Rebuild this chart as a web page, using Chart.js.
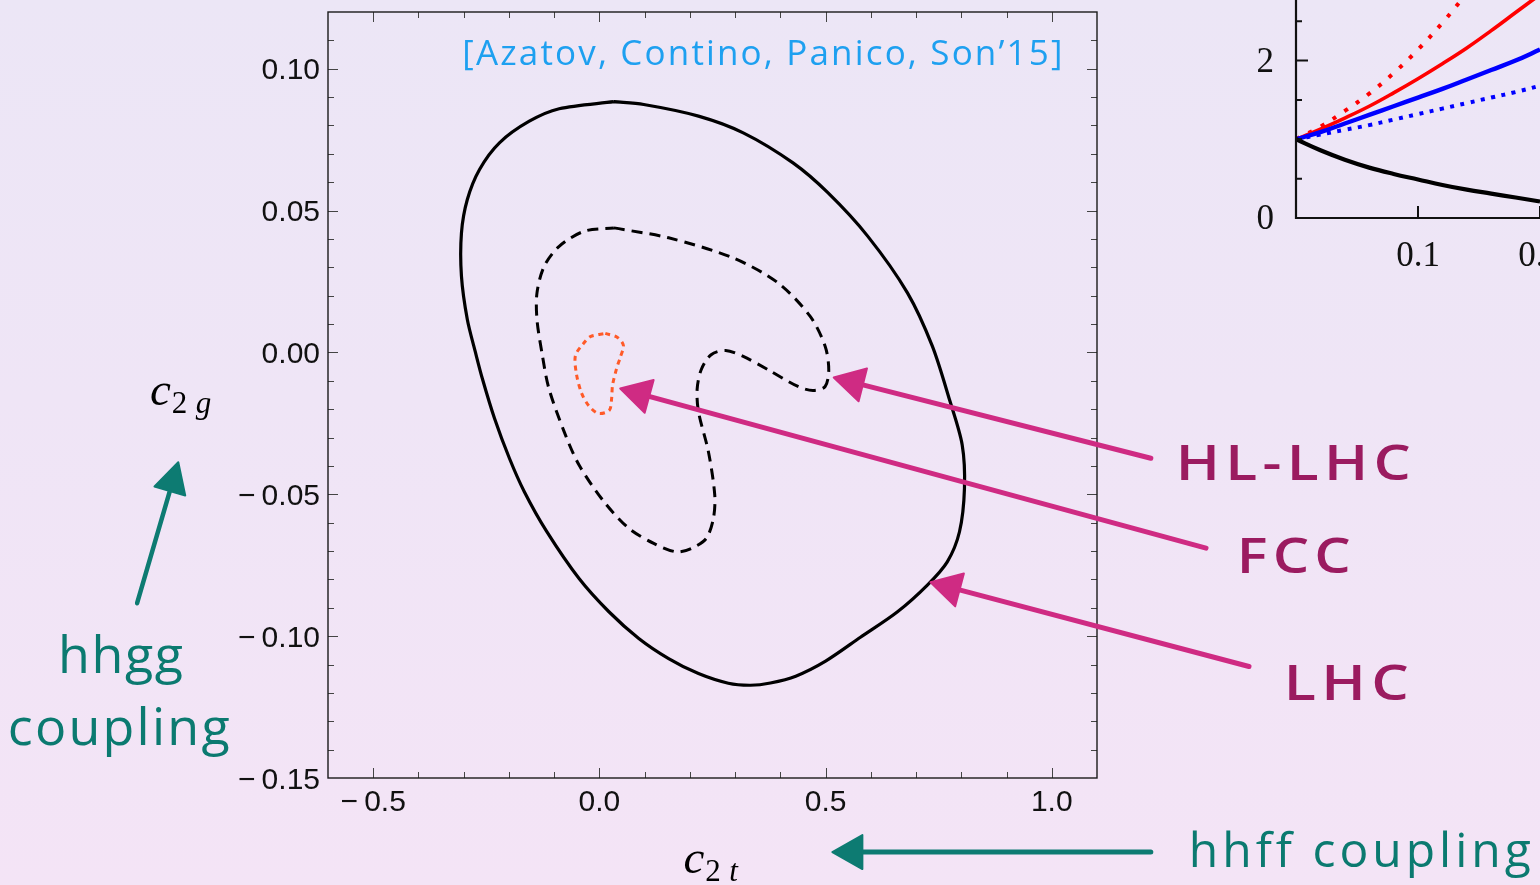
<!DOCTYPE html>
<html>
<head>
<meta charset="utf-8">
<script src="https://cdn.jsdelivr.net/npm/chart.js@4.4.1/dist/chart.umd.min.js"></script>
<style>
  html, body { margin: 0; padding: 0; width: 1540px; height: 885px; overflow: hidden; }
  body { position: relative; background: linear-gradient(180deg, #ece6f6 0%, #efe5f6 45%, #f4e4f6 100%); }
  #main { position: absolute; left: 0; top: 0; }
  #inset { position: absolute; left: 1150px; top: -150px; }
</style>
</head>
<body>
<canvas id="main" width="1540" height="885"></canvas>
<canvas id="inset" width="700" height="480"></canvas>
<script>
// ---------- c2t / c2g exclusion contours ----------
// LHC (solid)
const lhcC2t = [0.032, 0.098, 0.219, 0.318, 0.428, 0.505, 0.593, 0.681, 0.736, 0.774, 0.802, 0.807, 0.796, 0.769, 0.725,
                0.659, 0.577, 0.500, 0.434, 0.378, 0.334, 0.285, 0.219, 0.153, 0.087, 0.021, -0.045, -0.117, -0.166, -0.199,
                -0.232, -0.259, -0.274, -0.292, -0.305, -0.305, -0.292, -0.265, -0.221, -0.155, -0.089, 0.032];
const lhcC2g = [0.0884, 0.0874, 0.0833, 0.0774, 0.0668, 0.0563, 0.0410, 0.0210, 0.0022, -0.0167, -0.0326, -0.0479, -0.0632, -0.0738, -0.0820,
                -0.0914, -0.1004, -0.1088, -0.1141, -0.1165, -0.1173, -0.1166, -0.1132, -0.1079, -0.1008, -0.0914, -0.0797, -0.0630, -0.0491, -0.0373,
                -0.0232, -0.0091, 0.0000, 0.0116, 0.0269, 0.0421, 0.0539, 0.0645, 0.0739, 0.0815, 0.0859, 0.0884];

// HL-LHC (dashed)
const hlC2t = [0.032, 0.153, 0.296, 0.395, 0.466, 0.499, 0.507, 0.499, 0.472, 0.439, 0.373, 0.318, 0.279, 0.247, 0.225,
               0.216, 0.219, 0.241, 0.255, 0.252, 0.236, 0.203, 0.170, 0.120, 0.065, 0.010, -0.045, -0.078, -0.112,
               -0.127, -0.138, -0.138, -0.122, -0.089, -0.034, 0.032];
const hlC2g = [0.0439, 0.0404, 0.0333, 0.0245, 0.0127, 0.0022, -0.0061, -0.0120, -0.0134, -0.0120, -0.0061, -0.0014, 0.0007, -0.0008, -0.0061,
               -0.0130, -0.0209, -0.0350, -0.0503, -0.0585, -0.0656, -0.0691, -0.0703, -0.0673, -0.0620, -0.0526, -0.0397, -0.0279, -0.0125,
               -0.0002, 0.0116, 0.0210, 0.0304, 0.0374, 0.0427, 0.0439];

// FCC (dotted)
const fccC2t = [0.013, 0.040, 0.053, 0.046, 0.038, 0.029, 0.027, 0.022, -0.002, -0.024, -0.040, -0.051, -0.053, -0.035, -0.020, 0.013];
const fccC2g = [0.0067, 0.0053, 0.0025, -0.0018, -0.0056, -0.0116, -0.0162, -0.0204, -0.0215, -0.0187, -0.0141, -0.0074, -0.0011, 0.0032, 0.0056, 0.0067];

// axis ticks
const xTickValues = [-0.5, 0.0, 0.5, 1.0];
const xTickLabels = ['\u22120.5', '0.0', '0.5', '1.0'];
const yTickValues = [-0.15, -0.10, -0.05, 0.00, 0.05, 0.10];
const yTickLabels = ['\u22120.15', '\u22120.10', '\u22120.05', '0.00', '0.05', '0.10'];

// ---------- ratio curves (upper right panel) ----------
const insetX        = [0, 0.02, 0.04, 0.06, 0.08, 0.10, 0.12, 0.14, 0.16, 0.18, 0.20];
const insetRedDot   = [1.00, 1.16, 1.36, 1.58, 1.84, 2.14, 2.48, 2.86, 3.28];
const insetRed      = [1.00, 1.13, 1.27, 1.42, 1.59, 1.77, 1.96, 2.16, 2.38, 2.61, 2.84];
const insetBlue     = [1.00, 1.09, 1.20, 1.31, 1.42, 1.53, 1.64, 1.76, 1.88, 2.00, 2.14];
const insetBlueDot  = [1.00, 1.06, 1.12, 1.18, 1.25, 1.32, 1.39, 1.46, 1.53, 1.60, 1.68];
const insetBlack    = [1.00, 0.86, 0.74, 0.64, 0.56, 0.49, 0.42, 0.36, 0.31, 0.26, 0.21];
const insetYTicks = [0, 2];
const insetYTickLabels = ['0', '2'];
const insetXTicks = [0.1, 0.2];
const insetXTickLabels = ['0.1', '0.2'];

// ---------- annotations (in c2t / c2g units) ----------
const pointerLabels = ['HL-LHC', 'FCC', 'LHC'];
const pointerTip  = [[0.518, -0.0088], [0.046, -0.0127], [0.732, -0.0810]];
const pointerTail = [[1.219, -0.0373], [1.341, -0.0690], [1.436, -0.1107]];
const pointerText = [[1.274, -0.0451, 235], [1.409, -0.0778, 114], [1.513, -0.1225, 125]];

const pts = (xs, ys) => xs.map((x, i) => ({ x: x, y: ys[i] }));

function fitText(ctx, text, x, y, width, font, color) {
  ctx.save();
  ctx.font = font;
  ctx.fillStyle = color;
  ctx.textAlign = 'left';
  ctx.textBaseline = 'alphabetic';
  ctx.letterSpacing = '0px';
  const w0 = ctx.measureText(text).width;
  const n = text.length;
  let sx = 1;
  if (width > w0) {
    const extra = (width - w0) / Math.max(1, n - 1);
    const sp = Math.min(extra, 0.09 * parseFloat(font.match(/(\d+)px/)[1]));
    ctx.letterSpacing = sp + 'px';
    const w1 = ctx.measureText(text).width - sp;
    sx = width / w1;
  } else {
    sx = width / w0;
  }
  ctx.translate(x, y);
  ctx.scale(sx, 1);
  ctx.fillText(text, 0, 0);
  ctx.restore();
}

function arrow(ctx, x0, y0, x1, y1, color, shaftW, headLen, headHalf) {
  const a = Math.atan2(y1 - y0, x1 - x0);
  const c = Math.cos(a), s = Math.sin(a);
  const bx = x1 - headLen * c, by = y1 - headLen * s;
  ctx.save();
  ctx.strokeStyle = color;
  ctx.fillStyle = color;
  ctx.lineWidth = shaftW;
  ctx.lineCap = 'round';
  ctx.beginPath();
  ctx.moveTo(x0, y0);
  ctx.lineTo(bx + 4 * c, by + 4 * s);
  ctx.stroke();
  ctx.beginPath();
  ctx.moveTo(x1, y1);
  ctx.lineTo(bx + headHalf * s, by - headHalf * c);
  ctx.lineTo(bx - headHalf * s, by + headHalf * c);
  ctx.closePath();
  ctx.lineJoin = 'round';
  ctx.lineWidth = 2;
  ctx.fill();
  ctx.stroke();
  ctx.restore();
}

// frame, inward ticks on all four sides, tick labels, axis titles and callouts
const framePlugin = {
  id: 'frame',
  afterDatasetsDraw(chart) {
    const { ctx, chartArea: a, scales: { x, y } } = chart;
    ctx.save();
    // mirrored ticks
    ctx.strokeStyle = '#444';
    ctx.lineWidth = 1;
    ctx.beginPath();
    for (let k = -5; k <= 10; k++) {
      const v = k / 10;
      const px = Math.round(x.getPixelForValue(v)) + 0.5;
      const len = (k % 5 === 0) ? 10 : 6;
      ctx.moveTo(px, a.bottom); ctx.lineTo(px, a.bottom - len);
      ctx.moveTo(px, a.top); ctx.lineTo(px, a.top + len);
    }
    for (let k = -14; k <= 11; k++) {
      const v = k / 100;
      const py = Math.round(y.getPixelForValue(v)) + 0.5;
      const len = (k % 5 === 0) ? 10 : 6;
      ctx.moveTo(a.left, py); ctx.lineTo(a.left + len, py);
      ctx.moveTo(a.right, py); ctx.lineTo(a.right - len, py);
    }
    ctx.stroke();
    // frame
    ctx.strokeStyle = '#1a1a1a';
    ctx.lineWidth = 1.4;
    ctx.strokeRect(a.left, a.top, a.right - a.left, a.bottom - a.top);

    // tick labels
    ctx.fillStyle = '#111';
    ctx.font = '30px "Liberation Sans", Arial, sans-serif';
    ctx.textBaseline = 'alphabetic';
    ctx.textAlign = 'right';
    yTickValues.forEach((v, i) => {
      const t = yTickLabels[i].replace('\u2212', '\u2212\u2009');
      ctx.fillText(t, a.left - 8, y.getPixelForValue(v) + 10.5);
    });
    ctx.textAlign = 'center';
    xTickValues.forEach((v, i) => {
      const t = xTickLabels[i].replace('\u2212', '\u2212\u2009');
      ctx.fillText(t, x.getPixelForValue(v), a.bottom + 33);
    });

    // axis titles with subscripts
    const title = (L, base, sub) => {
      ctx.textAlign = 'left';
      ctx.fillStyle = '#000';
      ctx.font = 'italic 47px "Liberation Serif", "Times New Roman", serif';
      ctx.fillText('c', L, base);
      const cw = ctx.measureText('c').width;
      ctx.font = '31px "Liberation Serif", "Times New Roman", serif';
      ctx.fillText('2', L + cw + 1, base + 8);
      ctx.font = 'italic 31px "Liberation Serif", "Times New Roman", serif';
      ctx.fillText(sub, L + cw + 1 + 15 + 9, base + 8);
    };
    const midY = (a.top + a.bottom) / 2;
    title(a.left - 178, midY + 10, 'g');
    title((a.left + a.right) / 2 - 29, a.bottom + 95, 't');

    // callout arrows
    const pink = '#cf2b83';
    pointerTip.forEach((tip, i) => {
      const tail = pointerTail[i];
      arrow(ctx, x.getPixelForValue(tail[0]), y.getPixelForValue(tail[1]),
                 x.getPixelForValue(tip[0]), y.getPixelForValue(tip[1]), pink, 5, 30, 17);
    });
    const teal = '#0d7b72';
    arrow(ctx, x.getPixelForValue(-1.022), y.getPixelForValue(-0.0884),
               x.getPixelForValue(-0.931), y.getPixelForValue(-0.0387), teal, 4.5, 30, 16);
    arrow(ctx, x.getPixelForValue(1.219), y.getPixelForValue(-0.1761),
               x.getPixelForValue(0.515), y.getPixelForValue(-0.1761), teal, 5, 30, 17);

    // callout texts
    const hand = '"Open Sans", "Noto Sans", sans-serif';
    pointerText.forEach((p, i) => {
      fitText(ctx, pointerLabels[i], x.getPixelForValue(p[0]), y.getPixelForValue(p[1]), p[2],
              '600 49px ' + hand, '#9b1b60');
    });
    fitText(ctx, '[Azatov, Contino, Panico, Son\u201915]', x.getPixelForValue(-0.303), y.getPixelForValue(0.1014), 600,
            '35px ' + hand, '#1ea0f0');
    fitText(ctx, 'hhgg', x.getPixelForValue(-1.197), y.getPixelForValue(-0.1130), 125, '52px ' + hand, '#0b7a70');
    fitText(ctx, 'coupling', x.getPixelForValue(-1.308), y.getPixelForValue(-0.1384), 222, '52px ' + hand, '#0b7a70');
    fitText(ctx, 'hhff coupling', x.getPixelForValue(1.303), y.getPixelForValue(-0.1813), 342, '48px ' + hand, '#0b7a70');
    ctx.restore();
  }
};

new Chart(document.getElementById('main'), {
  type: 'scatter',
  data: {
    datasets: [
      { label: 'LHC', data: pts(lhcC2t, lhcC2g), showLine: true, borderColor: '#000', borderWidth: 3.2,
        pointRadius: 0, tension: 0.3, fill: false },
      { label: 'HL-LHC', data: pts(hlC2t, hlC2g), showLine: true, borderColor: '#000', borderWidth: 3,
        borderDash: [11, 7], pointRadius: 0, tension: 0.3, fill: false },
      { label: 'FCC', data: pts(fccC2t, fccC2g), showLine: true, borderColor: '#ff5a28', borderWidth: 3,
        borderDash: [5, 4.5], pointRadius: 0, tension: 0.3, fill: false }
    ]
  },
  options: {
    responsive: false,
    animation: false,
    events: [],
    layout: { padding: { left: 328, top: 12, right: 443, bottom: 107 } },
    plugins: { legend: { display: false }, tooltip: { enabled: false } },
    scales: {
      x: { type: 'linear', min: -0.6, max: 1.1, display: false },
      y: { type: 'linear', min: -0.15, max: 0.12, display: false }
    }
  },
  plugins: [framePlugin]
});

// ---------- upper right panel ----------
const insetAxes = {
  id: 'insetAxes',
  afterDatasetsDraw(chart) {
    const { ctx, chartArea: a, scales: { x, y } } = chart;
    const x0 = x.getPixelForValue(0), y0 = y.getPixelForValue(0);
    ctx.save();
    ctx.strokeStyle = '#111';
    ctx.lineWidth = 2.2;
    ctx.beginPath();
    ctx.moveTo(x0, 0); ctx.lineTo(x0, y0);
    ctx.lineTo(chart.width, y0);
    ctx.stroke();
    ctx.lineWidth = 2;
    ctx.beginPath();
    for (let k = 1; k <= 6; k++) {
      const py = y.getPixelForValue(k * 0.5);
      const len = (k % 4 === 0) ? 12 : 6;
      ctx.moveTo(x0, py); ctx.lineTo(x0 + len, py);
    }
    insetXTicks.forEach(v => {
      const px = x.getPixelForValue(v);
      ctx.moveTo(px, y0); ctx.lineTo(px, y0 - 12);
    });
    ctx.stroke();
    ctx.fillStyle = '#111';
    ctx.font = '35px "Liberation Serif", "Times New Roman", serif';
    ctx.textAlign = 'right';
    ctx.textBaseline = 'alphabetic';
    insetYTicks.forEach((v, i) => ctx.fillText(insetYTickLabels[i], x0 - 22, y.getPixelForValue(v) + 11));
    ctx.textAlign = 'center';
    insetXTicks.forEach((v, i) => ctx.fillText(insetXTickLabels[i], x.getPixelForValue(v), y0 + 48));
    ctx.restore();
  }
};

const line = (ys, color, w, dash) => ({
  data: pts(insetX.slice(0, ys.length), ys), showLine: true, borderColor: color, borderWidth: w,
  borderDash: dash || [], pointRadius: 0, tension: 0.4, fill: false, borderCapStyle: 'butt'
});

new Chart(document.getElementById('inset'), {
  type: 'scatter',
  data: {
    datasets: [
      line(insetBlack, '#000', 4.2),
      line(insetBlueDot, '#0000ff', 4, [4, 6.5]),
      line(insetBlue, '#0000ff', 4.4),
      line(insetRed, '#ff0000', 3.6),
      line(insetRedDot, '#ff0000', 4, [4, 10])
    ]
  },
  options: {
    responsive: false,
    animation: false,
    events: [],
    layout: { padding: { left: 146, top: 92.5, right: 5, bottom: 112 } },
    plugins: { legend: { display: false }, tooltip: { enabled: false } },
    scales: {
      x: { type: 'linear', min: 0, max: 0.45, display: false },
      y: { type: 'linear', min: 0, max: 3.5, display: false }
    }
  },
  plugins: [insetAxes]
});
</script>
</body>
</html>
